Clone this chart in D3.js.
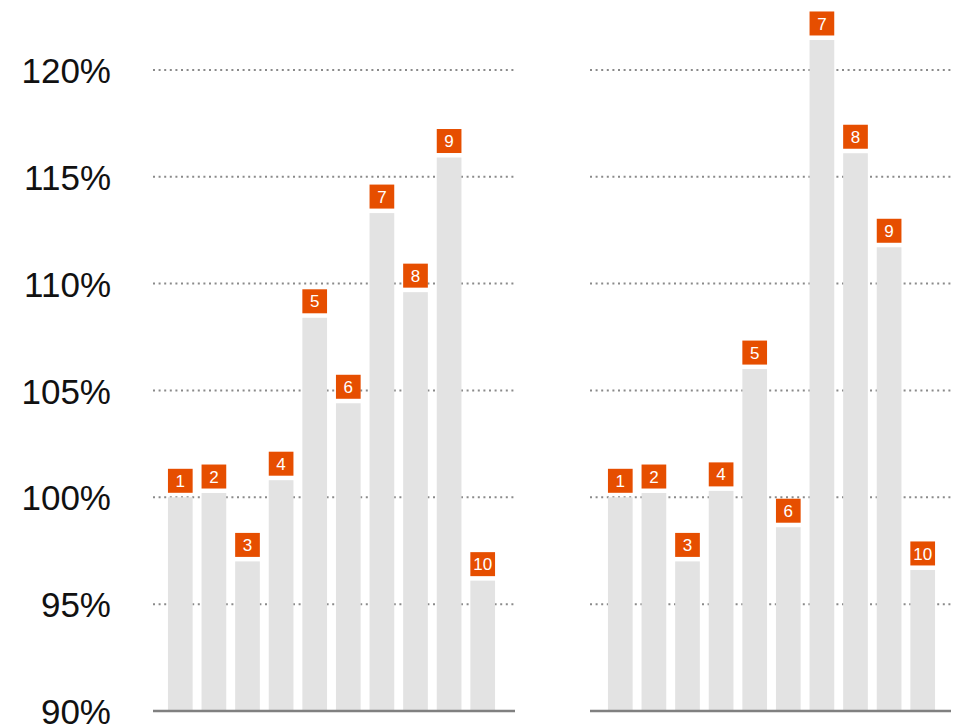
<!DOCTYPE html>
<html>
<head>
<meta charset="utf-8">
<script src="https://cdn.jsdelivr.net/npm/d3@7"></script>
<style>
  html, body { margin: 0; padding: 0; background: #fff; }
  svg { display: block; }
</style>
</head>
<body>
<svg id="chart" width="957" height="728"></svg>
<script>
// Ranked items shown in each panel
const categories = ["1", "2", "3", "4", "5", "6", "7", "8", "9", "10"];
// Index values (%) for the left and right panels
const leftValues  = [100.0, 100.2, 97.0, 100.8, 108.4, 104.4, 113.3, 109.6, 115.9, 96.1];
const rightValues = [100.0, 100.2, 97.0, 100.3, 106.0, 98.6, 121.4, 116.1, 111.7, 96.6];
// Y-axis ticks
const yTicks = [90, 95, 100, 105, 110, 115, 120];

const svg = d3.select("#chart");
const FONT = "'Liberation Sans', Arial, Helvetica, sans-serif";

const y = d3.scaleLinear().domain([90, 120]).range([711, 69.9]);

// Y-axis labels
const yAxis = d3.axisLeft(y).tickValues(yTicks).tickSize(0).tickPadding(0)
  .tickFormat(d => d + "%");
const yg = svg.append("g").attr("transform", "translate(111,0)").call(yAxis);
yg.select(".domain").remove();
yg.selectAll("text")
  .attr("font-family", FONT)
  .attr("font-size", 35)
  .attr("fill", "#111")
  .attr("dy", "0.36em");

const panels = [
  { values: leftValues,  grid: [153, 515], bars: [163.5, 499.5] },
  { values: rightValues, grid: [590, 951], bars: [603.5, 939.5] }
];

panels.forEach(p => {
  const g = svg.append("g");
  const x = d3.scaleBand().domain(categories).range(p.bars)
    .paddingInner(0.265).paddingOuter(0.1325);

  // Dotted gridlines (90% is the solid baseline)
  g.selectAll("line.grid").data(yTicks.filter(t => t > 90)).join("line")
    .attr("class", "grid")
    .attr("x1", p.grid[0]).attr("x2", p.grid[1])
    .attr("y1", d => y(d)).attr("y2", d => y(d))
    .attr("stroke", "#8a8a8a")
    .attr("stroke-width", 2)
    .attr("stroke-dasharray", "2,3.6");

  // Bars
  g.selectAll("rect.bar").data(p.values).join("rect")
    .attr("class", "bar")
    .attr("x", (d, i) => x(categories[i]))
    .attr("width", x.bandwidth())
    .attr("y", d => y(d))
    .attr("height", d => y(90) - y(d))
    .attr("fill", "#e3e3e3");

  // Baseline
  g.append("line")
    .attr("x1", p.grid[0]).attr("x2", p.grid[1])
    .attr("y1", y(90)).attr("y2", y(90))
    .attr("stroke", "#808080").attr("stroke-width", 2.5);

  // Rank badges above each bar
  const badgeH = 24, gap = 4.5;
  const badges = g.selectAll("g.badge").data(p.values).join("g")
    .attr("class", "badge")
    .attr("transform", (d, i) => `translate(${x(categories[i])},${y(d) - gap - badgeH})`);
  badges.append("rect")
    .attr("width", x.bandwidth())
    .attr("height", badgeH)
    .attr("fill", "#e64e00");
  badges.append("text")
    .attr("x", x.bandwidth() / 2)
    .attr("y", badgeH / 2)
    .attr("dy", "0.36em")
    .attr("text-anchor", "middle")
    .attr("font-family", FONT)
    .attr("font-size", 17)
    .attr("fill", "#fff")
    .text((d, i) => categories[i]);
});
</script>
</body>
</html>
